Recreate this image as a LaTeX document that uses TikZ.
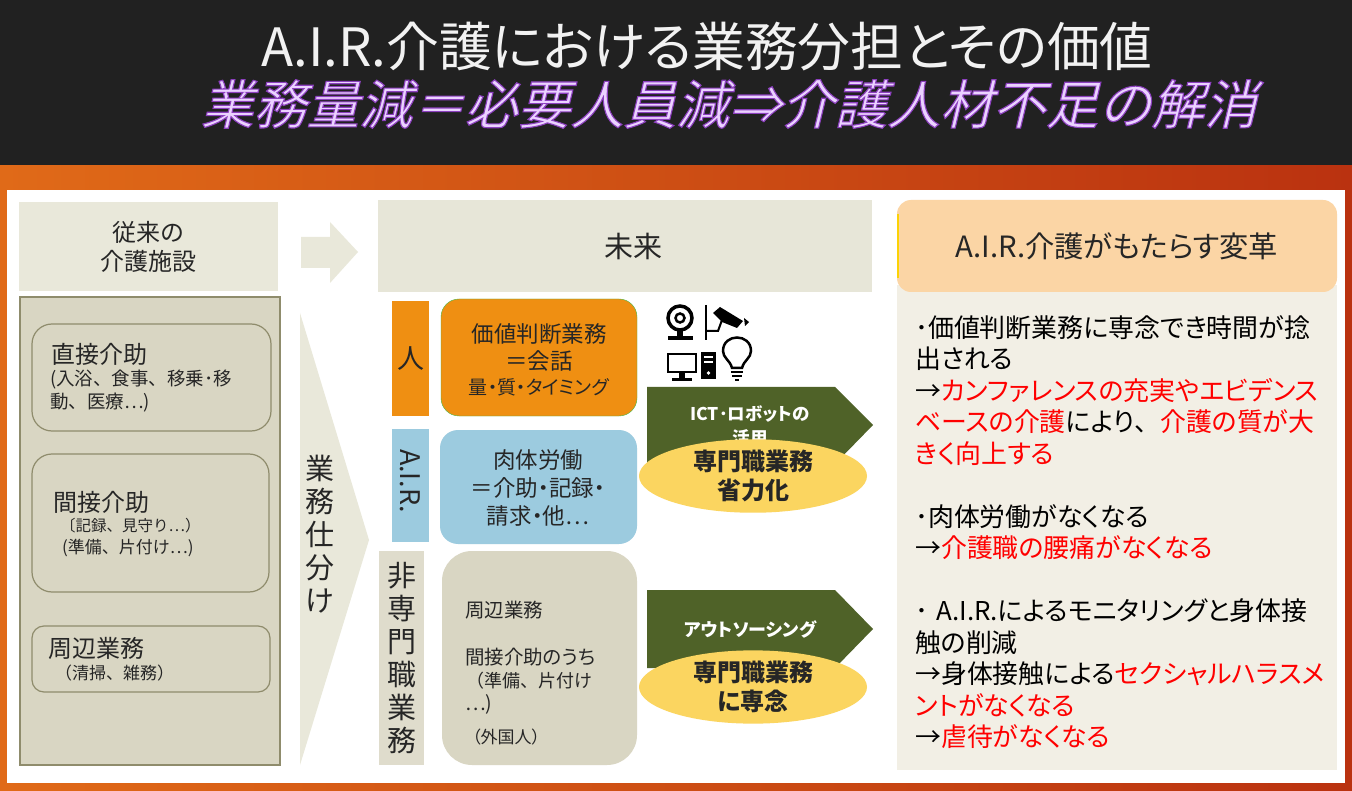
\documentclass[tikz,border=0pt]{standalone}
\usepackage{fontspec}
\usetikzlibrary{shapes.geometric}
\setmainfont[RawFeature=+palt]{Noto Sans CJK JP}
\newfontfamily\slantfont[FakeSlant=0.24]{Noto Sans CJK JP}
\newfontfamily\widefont{Noto Sans CJK JP}
\definecolor{headgray}{HTML}{E9E8DA}
\definecolor{panelgray}{HTML}{D9D6C3}
\definecolor{edgegray}{HTML}{8F8C6C}
\definecolor{airblue}{HTML}{9CCBDF}
\definecolor{carrot}{HTML}{EF8F12}
\definecolor{moss}{HTML}{4F6228}
\definecolor{sand}{HTML}{FBD560}
\definecolor{lilac}{HTML}{EBD2FF}
\definecolor{peach}{HTML}{FBD5A5}
\definecolor{paper}{HTML}{F2EFE5}
\definecolor{bandleft}{HTML}{E06A18}
\definecolor{bandright}{HTML}{BA3210}
\newcommand{\fs}[1]{\fontsize{#1}{#1}\selectfont}
% purple edge round the subtitle's letters
\newcommand{\glowon}{\special{pdf:code 2 Tr 1.1 w 0.55 0.25 0.75 RG}}
\newcommand{\glowoff}{\special{pdf:code 0 Tr 0 w}}

\begin{document}
\begin{tikzpicture}[x=1pt,y=-1pt,
                    plain box/.style={anchor=north west,inner sep=0pt,outer sep=0pt,align=center},
                    round box/.style={plain box,rounded corners=#1},
                    round box/.default=20pt,
                    lab/.style={anchor=west,inner sep=0pt,align=left,text=black!85},
                    mid/.style={inner sep=0pt,align=center,text=black!85},
                    pill/.style={ellipse,fill=sand,inner sep=0pt,align=center,minimum width=228pt,minimum height=65pt,font=\bfseries\fs{24},text=black!85}]
  \useasboundingbox (0,0) rectangle (1352,791);

  % backdrop
  \fill[left color=bandleft,right color=bandright] (0,165) rectangle (1352,791);
  \fill[black!87] (0,0) rectangle (1352,165);
  \fill[white] (7,190) rectangle (1345,783);

  \node[inner sep=0pt,text=white!95!black] (title) at (707,47) {\fs{52.8}A.I.R.介護における業務分担とその価値};
  \node[inner sep=0pt,text=lilac] (subtitle) at (729,104) {\slantfont\fs{52.8}\glowon 業務量減＝必要人員減⇒介護人材不足の解消\glowoff};

  % old facility column
  \node[plain box,fill=headgray,minimum width=259pt,minimum height=89pt,font=\fs{24},text=black!85] (old) at (19,202) {従来の\\[5pt]介護施設};
  \node[plain box,fill=panelgray,draw=edgegray,line width=1.2pt,minimum width=260pt,minimum height=468pt] (oldpanel) at (20,297) {};
  \node[round box,fill=panelgray,draw=edgegray,line width=1.2pt,minimum width=239pt,minimum height=107pt] (direct) at (32,324) {};
  \node[round box,fill=panelgray,draw=edgegray,line width=1.2pt,minimum width=237pt,minimum height=138pt] (indirect) at (32,454) {};
  \node[round box=12pt,fill=panelgray,draw=edgegray,line width=1.2pt,minimum width=238pt,minimum height=66pt] (around) at (32,626) {};
  \node[lab,font=\fs{24}] (directtxt) at (51,354) {直接介助};
  \node[lab,font=\widefont\fs{18.5}] (directa) at (50,380) {(入浴、食事、移乗･移};
  \node[lab,font=\widefont\fs{18.5}] (directb) at (50,403) {動、医療…)};
  \node[lab,font=\fs{24}] (indirecttxt) at (53,502) {間接介助};
  \node[lab,font=\widefont\fs{15.5}] (indirecta) at (60,526) {〔記録、見守り…）};
  \node[lab,font=\widefont\fs{17}] (indirectb) at (62,548) {(準備、片付け…)};
  \node[lab,font=\fs{24}] (aroundtxt) at (48,648) {周辺業務};
  \node[lab,font=\widefont\fs{17}] (arounda) at (55,673) {（清掃、雑務）};

  % arrows between the columns
  \fill[headgray] (301,237) -- (330,237) -- (330,222) -- (358,252) -- (330,283) -- (330,268) -- (301,268) -- cycle;
  \fill[headgray] (300,313) -- (369,540) -- (300,765) -- cycle;
  \node[mid,font=\fs{29},text width=30pt] (split) at (320,534) {業\\[4pt]務\\[4pt]仕\\[4pt]分\\[4pt]け};

  % future column
  \node[plain box,fill=headgray!90!panelgray,minimum width=494pt,minimum height=92pt,font=\fs{29},text=black!85] (future) at (378,200) {\hspace{16pt}未来};
  \node[plain box,fill=carrot,minimum width=37pt,minimum height=115pt,font=\fs{27},text=black!85] (person) at (392,301) {人};
  \node[round box=18pt,fill=carrot,draw=green!45!gray,minimum width=196pt,minimum height=117pt] (value) at (441,299) {};
  \node[mid,font=\fs{22.5}] (valuea) at (539,334) {価値判断業務};
  \node[mid,font=\fs{22.5}] (valueb) at (539,361) {＝会話};
  \node[mid,font=\fs{19}] (valuec) at (539,387) {量・質・タイミング};
  \node[plain box,fill=airblue,minimum width=37pt,minimum height=113pt] (airtag) at (392,429) {};
  \node[mid,rotate=-90,font=\fs{27}] (airtxt) at (410,481) {A.I.R.};
  \node[round box=18pt,fill=airblue,minimum width=197pt,minimum height=114pt] (labor) at (440,430) {};
  \node[mid,font=\fs{22.5}] (labora) at (538,460) {肉体労働};
  \node[mid,font=\fs{22.5}] (laborb) at (538,488) {＝介助・記録・};
  \node[mid,font=\fs{22.5}] (laborc) at (538,516) {請求・他…};
  \node[plain box,fill=panelgray!85!white,minimum width=45pt,minimum height=214pt,font=\fs{29},text=black!85] (nonpro) at (379,551) {非\\[4pt]専\\[4pt]門\\[4pt]職\\[4pt]業\\[4pt]務};
  \node[round box=30pt,fill=panelgray,minimum width=195pt,minimum height=214pt] (other) at (442,551) {};
  \node[lab,font=\fs{19.5}] (othera) at (465,610) {周辺業務};
  \node[lab,font=\fs{19.5}] (otherb) at (465,657) {間接介助のうち};
  \node[lab,font=\widefont\fs{18}] (otherc) at (466,681) {（準備、片付け};
  \node[lab,font=\fs{19.5}] (otherd) at (465,704) {…)};
  \node[lab,font=\fs{17}] (othere) at (472,737) {（外国人）};

  % icons
  \draw[line width=3.5pt] (680,318) circle (12pt);
  \draw[line width=2.5pt] (680,318) circle (4.5pt);
  \fill[black] (668,336) rectangle (693,340);
  \fill[black] (677,330) rectangle (683,337);
  \draw[line width=2pt] (706,305) -- (706,340);
  \draw[line width=2pt] (706,331) -- (718,331) -- (722,320);
  \fill[black] (713,313) -- (720,307) -- (743,321) -- (737,328) -- (722,322) -- cycle;
  \fill[black] (744,318) -- (749,322) -- (745,326) -- cycle;
  \draw[line width=2.5pt] (668,354) rectangle (696,372);
  \fill[black] (679,372) rectangle (685,378);
  \fill[black] (672,378) rectangle (692,381);
  \fill[black] (701,352) rectangle (716,379);
  \fill[white] (704,356) rectangle (713,358);
  \fill[white] (704,361) rectangle (713,363);
  \fill[white] (708.5,373) circle (1.8pt);
  \draw[line width=2.5pt] (732,368) .. controls (730,360) and (723,358) .. (723,351) .. controls (723,333) and (751,333) .. (751,351) .. controls (751,358) and (744,360) .. (742,368) -- cycle;
  \draw[line width=2pt] (731,372) -- (743,372) (732,376) -- (742,376);
  \draw[line width=2pt] (735,380) -- (739,380);

  % green arrows with their ovals
  \fill[moss] (647,387) -- (835,387) -- (873,425) -- (835,464) -- (647,464) -- cycle;
  \node[mid,text=white,font=\bfseries\fs{17.5}] (icta) at (750,414) {ICT･ロボットの};
  \node[mid,text=white,font=\bfseries\fs{17.5}] (ictb) at (750,438) {活用};
  \node[pill] (save) at (753,476) {専門職業務\\[5pt]省力化};
  \fill[moss] (647,590) -- (835,590) -- (873,629) -- (835,668) -- (647,668) -- cycle;
  \node[mid,text=white,font=\bfseries\fs{18}] (outs) at (750,629) {アウトソーシング};
  \node[pill] (focus) at (753,687) {専門職業務\\[5pt]に専念};

  % changes column
  \fill[paper] (897,285) rectangle (1337,770);
  \node[round box=14pt,fill=peach,minimum width=440pt,minimum height=92pt,font=\fs{29.3},text=black!85] (changes) at (897,200) {A.I.R.介護がもたらす変革};
  \draw[yellow!70!orange,line width=1.5pt] (898,214) -- (898,278);
  \node[anchor=north west,inner sep=0pt,align=left,text width=425pt,font=\fontsize{25.9}{31.5}\selectfont] (changetxt) at (915,315) {･価値判断業務に専念でき時間が捻\\
    出される\\
    →{\color{red}カンファレンスの充実やエビデンス}\\
    {\color{red}ベースの介護}により{\widefont 、}{\color{red}介護の質が大}\\
    {\color{red}きく向上する}\\
    \mbox{}\\
    ･肉体労働がなくなる\\
    →{\color{red}介護職の腰痛がなくなる}\\
    \mbox{}\\
    ･ A.I.R.によるモニタリングと身体接\\
    触の削減\\
    →身体接触による{\color{red}セクシャルハラスメ}\\
    {\color{red}ントがなくなる}\\
    →{\color{red}虐待がなくなる}};
\end{tikzpicture}
\end{document}
